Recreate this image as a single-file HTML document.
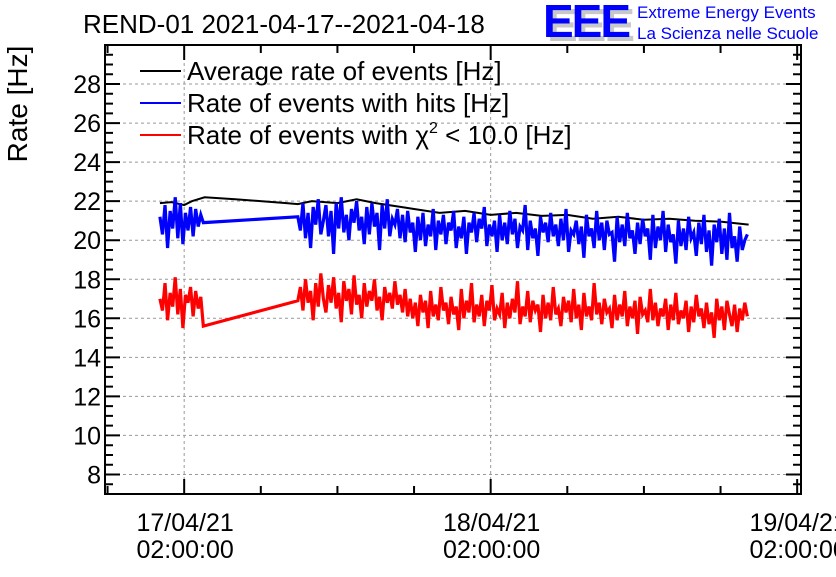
<!DOCTYPE html>
<html><head><meta charset="utf-8"><style>
html,body{margin:0;padding:0;background:#fff;}
svg text{font-family:"Liberation Sans",sans-serif;}
</style></head><body>
<svg id="chart" width="836" height="572" viewBox="0 0 836 572" xmlns="http://www.w3.org/2000/svg">
<rect width="836" height="572" fill="#fff"/>
<text x="83" y="33" font-size="26" fill="#000">REND-01 2021-04-17--2021-04-18</text>
<g>
<text x="547" y="41" font-size="46" font-weight="bold" fill="#c8c8c8" letter-spacing="-2">EEE</text>
<text x="543" y="37" font-size="46" font-weight="bold" fill="#0000ff" letter-spacing="-2">EEE</text>
<text x="637" y="18" font-size="17" fill="#0000ff">Extreme Energy Events</text>
<text x="637" y="39" font-size="17" fill="#0000ff">La Scienza nelle Scuole</text>
</g>
<text transform="translate(27,104) rotate(-90)" text-anchor="middle" font-size="28" fill="#000">Rate [Hz]</text>
<g id="grid"></g><g id="series"></g><g id="axes"></g>
<g>
<line x1="140" y1="71" x2="181" y2="71" stroke="#000" stroke-width="2"/>
<text x="187" y="80" font-size="26">Average rate of events [Hz]</text>
<line x1="140" y1="103" x2="181" y2="103" stroke="#0000ff" stroke-width="2"/>
<text x="187" y="112" font-size="26">Rate of events with hits [Hz]</text>
<line x1="140" y1="135" x2="181" y2="135" stroke="#ff0000" stroke-width="2"/>
<text x="187" y="144" font-size="26">Rate of events with χ<tspan dy="-11" font-size="16">2</tspan><tspan dy="11"> &lt; 10.0 [Hz]</tspan></text>
</g>
</svg>
<script>
const yTicks=[8,10,12,14,16,18,20,22,24,26,28];
const xTickHours=[0,24,48];
const xTickLabels=["17/04/21","18/04/21","19/04/21"];
const blueSeg1Start=-1.9, segStep=0.2, blueSeg2Start=8.9;
const blueSeg1=[21.2,20.3,21.8,19.6,21.5,20.6,22.2,20.1,21.9,19.8,21.4,20.5,21.7,20.2,21.6,20.7,21.3,20.9];
const blueSeg2=[21.2,20.5,21.9,20.1,21.4,19.6,21.7,20.8,22.1,20.3,
21.0,21.8,20.2,21.5,19.3,21.9,20.6,22.2,20.4,21.3,
20.0,21.6,20.9,22.0,20.5,21.2,19.8,21.7,20.3,21.9,
20.7,21.4,19.5,21.8,20.6,22.1,20.2,21.1,20.8,21.6,
20.1,21.3,19.9,21.5,20.4,20.9,19.4,21.2,20.0,21.4,
19.7,20.8,20.2,21.6,19.5,21.0,20.3,21.3,19.8,20.9,
20.5,21.5,19.6,20.7,20.1,21.2,19.3,20.9,20.4,21.4,
19.9,21.1,20.6,21.7,19.7,20.8,20.2,21.0,19.4,21.3,
20.0,20.9,19.8,21.5,20.3,21.1,19.6,20.7,20.5,21.8,
19.5,21.0,20.1,20.6,19.2,21.2,20.4,20.9,19.9,21.4,
20.2,20.8,19.7,21.1,20.0,21.6,19.4,20.5,20.3,21.0,
19.8,20.7,19.1,21.3,20.2,20.6,19.6,21.5,20.0,20.9,
19.5,21.0,20.3,20.4,18.9,21.2,19.9,20.8,19.7,21.4,
20.1,20.5,19.3,20.9,19.8,21.1,20.2,20.6,19.0,21.3,
19.6,20.7,20.0,21.5,19.4,20.8,19.9,20.3,18.8,21.0,
19.7,20.6,19.5,21.2,20.1,20.4,19.2,20.9,19.8,21.3,
19.4,20.5,18.7,20.8,19.9,21.1,19.3,20.6,19.0,21.4,
19.6,20.2,18.9,20.7,19.5,20.0,20.3];
const redSeg1=[17.0,16.4,17.8,15.9,17.3,16.6,18.1,16.2,17.5,15.5,17.2,16.8,17.6,16.1,17.4,16.5,17.1,15.6];
const redSeg2=[16.9,17.6,16.4,18.0,16.8,17.4,15.9,17.8,16.6,18.3,
17.0,16.3,17.7,16.8,18.1,16.5,17.3,15.8,17.9,16.9,
17.5,16.2,18.2,16.7,17.2,16.0,17.8,16.6,17.4,16.9,
18.0,16.4,17.1,15.9,17.6,16.8,17.3,16.5,17.9,16.7,
17.2,16.3,17.5,16.1,17.0,16.0,16.8,15.6,17.2,16.3,
16.9,15.5,17.4,16.1,16.7,15.9,17.6,16.4,16.8,15.7,
17.1,16.2,16.6,15.4,17.5,16.0,16.9,16.3,17.8,15.8,
16.7,16.1,17.2,15.6,16.9,16.4,17.7,15.9,16.5,16.2,
17.3,15.5,16.8,16.0,17.0,16.3,17.9,15.7,16.6,16.1,
17.4,15.8,16.9,16.4,16.7,15.3,17.2,16.0,16.8,15.9,
17.6,16.2,16.5,15.6,17.1,16.3,16.9,15.8,17.5,16.0,
16.7,15.4,17.3,16.1,16.6,15.9,17.8,16.2,16.8,15.7,
17.0,16.3,16.5,15.5,17.2,15.9,16.7,16.1,17.4,15.6,
16.6,16.0,16.9,15.2,17.1,16.2,16.4,15.8,17.5,15.9,
16.8,15.6,16.5,16.1,17.0,15.4,16.7,15.9,17.3,15.7,
16.4,16.0,16.9,15.3,16.6,15.8,17.2,16.1,16.5,15.5,
16.8,15.7,16.3,15.0,17.0,15.9,16.6,15.4,16.9,16.2,
15.6,16.7,15.3,16.5,15.9,16.8,16.1];
const avgHours=[-1.9,-1,0,0.6,1.6,4,8,8.9,10,12,13.5,15,17,18,20,22,24,26,28,30,32,34,36,38,40,42,44.2];
const avgValues=[21.9,21.95,21.8,22.0,22.2,22.1,21.9,21.85,22.0,21.9,22.1,21.9,21.7,21.6,21.4,21.5,21.3,21.4,21.25,21.3,21.1,21.2,21.05,21.1,21.0,20.95,20.8];

const X0=105,X1=801,Y0=45,Y1=494,HMIN=-6.2,HMAX=48.3,VMIN=7,VMAX=30;
const sx=h=>X0+(h-HMIN)/(HMAX-HMIN)*(X1-X0);
const sy=v=>Y1-(v-VMIN)/(VMAX-VMIN)*(Y1-Y0);
const NS="http://www.w3.org/2000/svg";
function mk(tag,parent,attrs){const e=document.createElementNS(NS,tag);for(const k in attrs)e.setAttribute(k,attrs[k]);parent.appendChild(e);return e;}
const grid=document.getElementById('grid'),series=document.getElementById('series'),axes=document.getElementById('axes');
yTicks.forEach(v=>{
 const g=mk('line',grid,{x1:X0,x2:X1,y1:sy(v),y2:sy(v),stroke:'#999','stroke-dasharray':'3,3','stroke-width':1});
 
 
 const t=mk('text',axes,{x:X0-4,y:sy(v)+9,'text-anchor':'end','font-size':25});
 t.textContent=v;
 
 
});
xTickHours.forEach((h,i)=>{
 if(sx(h)<X1-5){const g=mk('line',grid,{x1:sx(h),x2:sx(h),y1:Y0,y2:Y1,stroke:'#999','stroke-dasharray':'3,3','stroke-width':1});
 
 }
 const t=mk('text',axes,{x:sx(h)+1,y:531,'text-anchor':'middle','font-size':25});
 t.textContent=xTickLabels[i];
 
 
 const t2=mk('text',axes,{x:sx(h)+1,y:558,'text-anchor':'middle','font-size':25});
 t2.textContent='02:00:00';
 
 
});
let d='';
for(let v=7.5;v<=30;v+=0.5){const L=(v%2===0)?15:8;const y=sy(v);d+=`M${X0},${y}h${L}M${X1},${y}h${-L}`;}
for(let h=-6;h<=48;h+=6){const L=(h%24===0)?15:8;const x=sx(h);d+=`M${x},${Y1}v${-L}M${x},${Y0}v${L}`;}
const tk=mk('path',axes,{d:d,stroke:'#000','stroke-width':2,fill:'none'});


const fr=mk('rect',axes,{x:X0,y:Y0,width:X1-X0,height:Y1-Y0,fill:'none',stroke:'#000','stroke-width':2});


function pts(start,vals){return vals.map((v,i)=>[sx(start+i*segStep),sy(v)]);}
function drawLine(p,color,name,w){
 const e=mk('polyline',series,{points:p.map(q=>q.join(',')).join(' '),fill:'none',stroke:color,'stroke-width':w,'stroke-linejoin':'miter'});
 
 
}
const avgPts=avgHours.map((h,i)=>[sx(h),sy(avgValues[i])]);
drawLine(avgPts,'#000','average-rate-line',2);
const b1=pts(blueSeg1Start,blueSeg1),b2=pts(blueSeg2Start,blueSeg2);
drawLine(b1.concat(b2),'#0000ff','hits-rate-line',3.2);
const r1=pts(blueSeg1Start,redSeg1),r2=pts(blueSeg2Start,redSeg2);
drawLine(r1.concat(r2),'#ff0000','chi2-rate-line',3.2);
</script>
</body></html>
